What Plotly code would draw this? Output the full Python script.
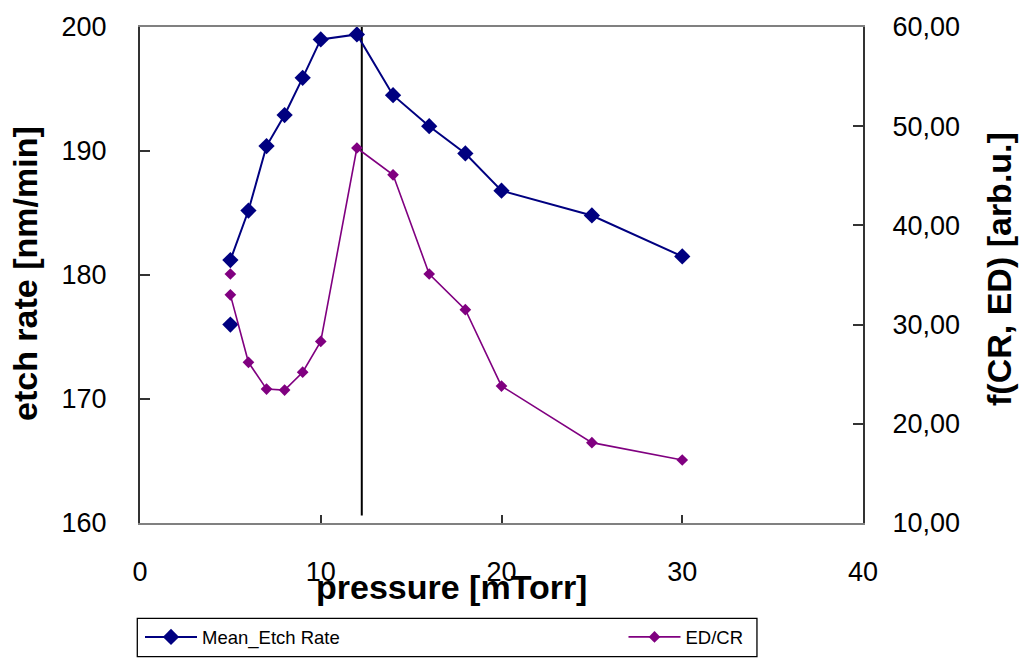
import plotly.graph_objects as go

# ---- data ----
pressure_etch = [5, None, 5, 6, 7, 8, 9, 10, 12, 14, 16, 18, 20, 25, 30]
mean_etch_rate = [176.0, None, 181.2, 185.2, 190.4, 192.9, 195.9, 199.0, 199.4, 194.5, 192.0, 189.8, 186.8, 184.8, 181.5]

pressure_edcr = [5, None, 5, 6, 7, 8, 9, 10, 12, 14, 16, 18, 20, 25, 30]
ed_cr = [35.1, None, 33.0, 26.2, 23.5, 23.4, 25.2, 28.3, 47.8, 45.1, 35.1, 31.5, 23.8, 18.1, 16.35]

peak_line_x = [12.27, 12.27]
peak_line_y = [160.6, 200]

x_ticks = [0, 10, 20, 30, 40]
y_left_ticks = [160, 170, 180, 190, 200]
y_right_ticks = [10, 20, 30, 40, 50, 60]

BLUE = "#000080"
PURPLE = "#800080"
FONT = "Liberation Sans, Arial, sans-serif"

fig = go.Figure()

fig.add_trace(go.Scatter(
    x=peak_line_x, y=peak_line_y, mode="lines",
    line=dict(color="black", width=2), showlegend=False, hoverinfo="skip",
    yaxis="y"))

fig.add_trace(go.Scatter(
    x=pressure_etch, y=mean_etch_rate, mode="lines+markers", name="Mean_Etch Rate",
    line=dict(color=BLUE, width=2),
    marker=dict(symbol="diamond", size=12.5, color=BLUE),
    yaxis="y", legend="legend"))

fig.add_trace(go.Scatter(
    x=pressure_edcr, y=ed_cr, mode="lines+markers", name="ED/CR",
    line=dict(color=PURPLE, width=1.6),
    marker=dict(symbol="diamond", size=9, color=PURPLE),
    yaxis="y2", legend="legend2"))

W, H = 1019, 668
L, R, T, B = 140, 156.3, 20, 142
pw, ph = W - L - R, H - T - B

def px_x(p):
    return (p - L) / pw

def px_y(p):
    return (H - B - p) / ph

tickfont = dict(family=FONT, size=27, color="black")
titlefont = dict(family=FONT, size=34, color="black")
legendfont = dict(family=FONT, size=18.5, color="black")

fig.update_layout(
    width=W, height=H,
    margin=dict(l=L, r=R, t=T, b=B, pad=0),
    paper_bgcolor="white", plot_bgcolor="white",
    separators=",.",
    font=dict(family=FONT, color="black"),
    xaxis=dict(
        range=[0, 40], tickvals=x_ticks, ticks="inside", ticklen=8, tickwidth=1.5,
        tickcolor="#333", showline=True, linecolor="#808080", linewidth=2, mirror=True,
        showgrid=False, zeroline=False, tickfont=tickfont, ticklabelstandoff=24),
    yaxis=dict(
        range=[160, 200], tickvals=y_left_ticks, ticks="inside", ticklen=10, tickwidth=1.5,
        tickcolor="#333", showline=True, linecolor="#333", linewidth=2,
        showgrid=False, zeroline=False, tickfont=tickfont, ticklabelstandoff=26),
    yaxis2=dict(
        range=[10, 60], tickvals=y_right_ticks, tickformat=".2f", overlaying="y", side="right",
        ticks="inside", ticklen=10, tickwidth=1.5, tickcolor="#333",
        showline=True, linecolor="#333", linewidth=2,
        showgrid=False, zeroline=False, tickfont=tickfont, ticklabelstandoff=22),
    legend=dict(
        x=px_x(140), y=px_y(642.7), xanchor="left", yanchor="middle",
        orientation="h", itemwidth=52, borderwidth=0, bgcolor="rgba(0,0,0,0)",
        font=legendfont),
    legend2=dict(
        x=px_x(623.3), y=px_y(642.7), xanchor="left", yanchor="middle",
        orientation="h", itemwidth=52, borderwidth=0, bgcolor="rgba(0,0,0,0)",
        font=legendfont),
    shapes=[dict(
        type="rect", xref="paper", yref="paper",
        x0=px_x(137.3), x1=px_x(756.7), y0=px_y(662.3), y1=px_y(623.3),
        line=dict(color="black", width=1.3), fillcolor="rgba(0,0,0,0)", layer="below")],
    annotations=[
        dict(text="<b>pressure [mTorr]</b>", xref="paper", yref="paper",
             x=px_x(451), y=px_y(591), xanchor="center", yanchor="middle",
             showarrow=False, font=titlefont),
        dict(text="<b>etch rate [nm/min]</b>", xref="paper", yref="paper",
             x=px_x(25), y=px_y(271), xanchor="center", yanchor="middle",
             textangle=-90, showarrow=False, font=titlefont),
        dict(text="<b>f(CR, ED) [arb.u.]</b>", xref="paper", yref="paper",
             x=px_x(998), y=px_y(266.5), xanchor="center", yanchor="middle",
             textangle=-90, showarrow=False, font=titlefont),
    ],
)

fig.write_html("out.html")
